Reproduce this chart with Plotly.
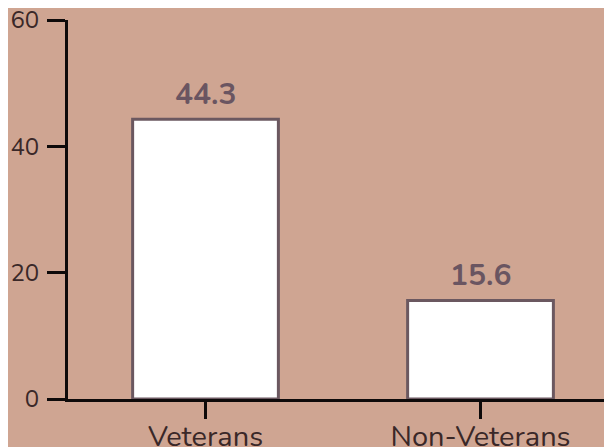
import plotly.graph_objects as go

# data
categories = ["Veterans", "Non-Veterans"]
values = [44.3, 15.6]
y_ticks = [0, 20, 40, 60]

BG = "#CFA592"
OUTLINE = "#6B5860"
LABEL = "#6A5561"
AXIS = "#0E0A0A"
TICKFONT = "#3A2828"
FONT = "Nunito, Lato, sans-serif"

fig = go.Figure()

fig.add_trace(
    go.Bar(
        x=categories,
        y=values,
        width=0.53,
        marker=dict(color="white", line=dict(color=OUTLINE, width=3)),
        hoverinfo="skip",
    )
)

# value labels above the bars
for cat, val in zip(categories, values):
    fig.add_annotation(
        x=cat,
        y=val,
        text=f"{val:.1f}",
        showarrow=False,
        yanchor="bottom",
        yshift=2,
        font=dict(family=FONT, size=30, color=LABEL, weight="bold"),
    )

# page body has an 8px margin; the x axis runs off the right edge of the window
fig.update_layout(
    width=610,
    height=439,
    margin=dict(l=60, r=0, t=12, b=48, autoexpand=False),
    paper_bgcolor=BG,
    plot_bgcolor=BG,
    showlegend=False,
    font=dict(family=FONT, color=TICKFONT),
)

fig.update_xaxes(
    range=[-0.5, 1.5],
    showline=True,
    linecolor=AXIS,
    linewidth=3,
    ticks="outside",
    ticklen=17,
    tickwidth=3,
    tickcolor=AXIS,
    tickfont=dict(size=29, color=TICKFONT),
    ticklabelstandoff=-8,
    ticklabeloverflow="allow",
    showgrid=False,
    zeroline=False,
)

fig.update_yaxes(
    range=[0, 60],
    tickvals=y_ticks,
    showline=True,
    linecolor=AXIS,
    linewidth=3,
    ticks="outside",
    ticklen=18,
    tickwidth=3,
    tickcolor=AXIS,
    tickfont=dict(size=24, color=TICKFONT),
    ticklabelstandoff=3,
    ticklabeloverflow="allow",
    showgrid=False,
    zeroline=False,
)

fig.write_html("out.html")
